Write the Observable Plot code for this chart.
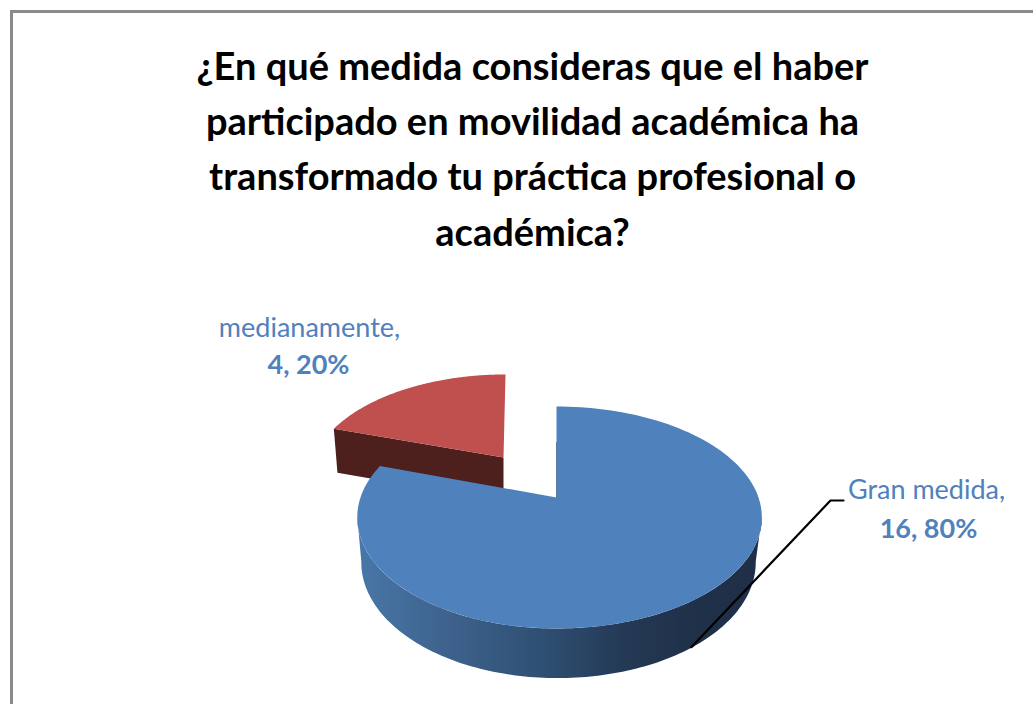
<!DOCTYPE html>
<html lang="es">
<head>
<meta charset="utf-8">
<style>html,body{margin:0;padding:0;background:#fff}svg{display:block}</style>
<script src="https://cdn.jsdelivr.net/npm/d3@7"></script>
<script src="https://cdn.jsdelivr.net/npm/@observablehq/plot@0.6"></script>
</head>
<body>
<div id="chart"></div>
<script>
// Data
const categories = ["Gran medida", "medianamente"];
const counts = [16, 4];
const percents = [80, 20];
const titleLines = [
  "¿En qué medida consideras que el haber",
  "participado en movilidad académica ha",
  "transformado tu práctica profesional o",
  "académica?"
];

// Slice angles come from the values
const slices = d3.pie().sort(null)(counts);
const [blue, red] = slices;

// Perspective projection of the pie disc
const k = 0.18;
function project(theta, o) {
  const u = Math.sin(theta), v = Math.cos(theta), den = 1 + k * v;
  const r = u >= 0 ? o.rr : o.rl;
  return {
    x: o.cx + (r * u) / den + (o.shear || 0) * v,
    y: o.cy + (o.depth || 0) - (o.ry * v) / den
  };
}
function arcPoints(a0, a1, o, n = 140) {
  return d3.range(n + 1).map(i => project(a0 + (a1 - a0) * i / n, o));
}
const blueTop = {cx: 556, cy: 497, rr: 202, rl: 196, ry: 107.4};
const blueBottom = {cx: 557, cy: 497, rr: 195, rl: 193, ry: 112, depth: 44};
const redTop = {cx: 503, cy: 457, rr: 189, rl: 189, ry: 98, shear: 2};
const redBottom = {...redTop, depth: 44, rl: 185};

const blueFace = [{x: blueTop.cx, y: blueTop.cy}, ...arcPoints(blue.startAngle, blue.endAngle, blueTop)];
const redFace = [{x: redTop.cx, y: redTop.cy}, ...arcPoints(red.startAngle, red.endAngle, redTop)];
const redCorner = project(red.startAngle, redTop);
const redCornerLow = project(red.startAngle, redBottom);
const redSide = [
  redCorner,
  {x: redTop.cx, y: redTop.cy},
  {x: redTop.cx, y: redTop.cy + redBottom.depth},
  redCornerLow
];
const deg = Math.PI / 180;
const blueSide = [
  ...arcPoints(100 * deg, 260 * deg, blueTop),
  ...arcPoints(260 * deg, 100 * deg, blueBottom)
];
const sliver = [{x: blueTop.cx, y: blueTop.cy - 55}, {x: blueTop.cx, y: blueTop.cy}];
const midBlue = (blue.startAngle + blue.endAngle) / 2;
const leaderStart = project(midBlue, {...blueTop, rr: 196, depth: 48});
const leader = [leaderStart, {x: 830, y: 500}, {x: 843, y: 500}];

const regularLabels = [
  {text: `${categories[0]},`, x: 926, y: 490},
  {text: `${categories[1]},`, x: 309, y: 328}
];
const boldLabels = [
  {text: `${counts[0]}, ${percents[0]}%`, x: 928, y: 529},
  {text: `${counts[1]}, ${percents[1]}%`, x: 308, y: 365}
];
const titleRows = titleLines.map((t, i) => ({t, y: 67 + i * 55.3}));

const gradient = () => {
  const defs = d3.create("svg:defs");
  const g = defs.append("linearGradient").attr("id", "side")
    .attr("gradientUnits", "userSpaceOnUse")
    .attr("x1", 358).attr("x2", 760).attr("y1", 0).attr("y2", 0);
  [[0, "#4877a8"], [0.2, "#3f648f"], [0.45, "#2f5074"], [0.65, "#253a56"], [0.85, "#1f3048"], [1, "#1e2f47"]]
    .forEach(([o, c]) => g.append("stop").attr("offset", o).attr("stop-color", c));
  return defs.node();
};

const fillShape = (pts, fill) => Plot.line(pts, {x: "x", y: "y", fill, stroke: "none"});
const labelMark = (rows, fontWeight) => Plot.text(rows, {
  x: "x", y: "y", text: "text", fontFamily: "Lato", fontSize: 27, fontWeight,
  fill: "#4f81bd", textAnchor: "middle", lineAnchor: "middle"
});

const chart = Plot.plot({
  width: 1033,
  height: 704,
  margin: 0,
  style: {background: "#fff"},
  x: {domain: [0, 1033], range: [0, 1033], axis: null},
  y: {domain: [0, 704], range: [0, 704], axis: null},
  marks: [
    gradient,
    Plot.ruleY([11], {x1: 10, x2: 1033, stroke: "#8a8a8a", strokeWidth: 3}),
    Plot.ruleX([11], {y1: 10, y2: 704, stroke: "#8a8a8a", strokeWidth: 3}),
    fillShape(redSide, "#4d1f1d"),
    fillShape(redFace, "#c0504d"),
    fillShape(blueSide, "url(#side)"),
    Plot.line(sliver, {x: "x", y: "y", stroke: "#1f3048", strokeWidth: 1, strokeOpacity: 0.7}),
    fillShape(blueFace, "#4f81bd"),
    Plot.line(leader, {x: "x", y: "y", stroke: "#000", strokeWidth: 2.2}),
    Plot.text(titleRows, {
      x: () => 532, y: "y", text: "t", fontFamily: "Lato", fontWeight: 700, fontSize: 38,
      fill: "#000", textAnchor: "middle", lineAnchor: "middle"
    }),
    labelMark(regularLabels, 400),
    labelMark(boldLabels, 700)
  ]
});
document.getElementById("chart").append(chart);
</script>
</body>
</html>
